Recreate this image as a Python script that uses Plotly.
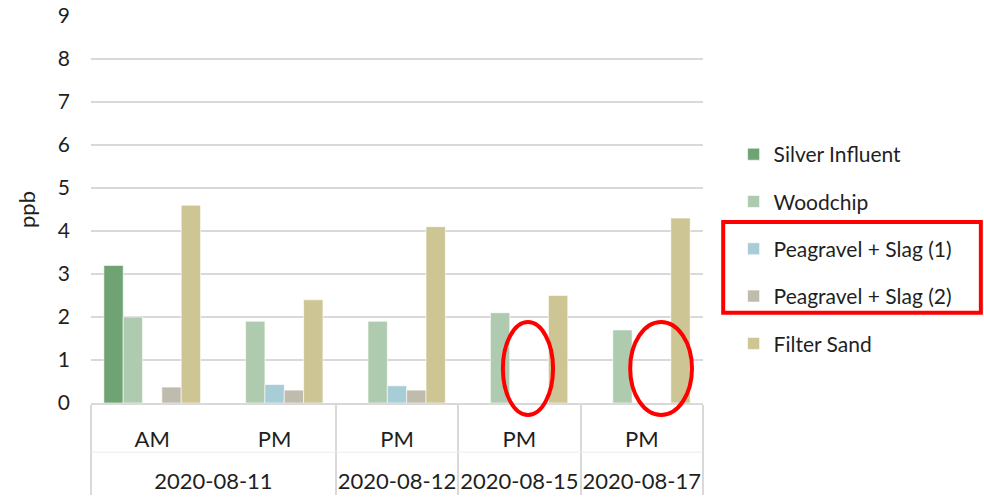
import plotly.graph_objects as go

dates = ["2020-08-11", "2020-08-11", "2020-08-12", "2020-08-15", "2020-08-17"]
times = ["AM", "PM", "PM", "PM", "PM"]

series_names = ["Silver Influent", "Woodchip", "Peagravel + Slag (1)", "Peagravel + Slag (2)", "Filter Sand"]
silver_influent = [3.2, None, None, None, None]
woodchip = [2.0, 1.9, 1.9, 2.1, 1.7]
peagravel_slag_1 = [None, 0.43, 0.4, None, None]
peagravel_slag_2 = [0.37, 0.3, 0.3, None, None]
filter_sand = [4.6, 2.4, 4.1, 2.5, 4.3]
colors = ["#6FA374", "#AFCBAF", "#A7CDD6", "#BFBCAE", "#CDC594"]

series_values = [silver_influent, woodchip, peagravel_slag_1, peagravel_slag_2, filter_sand]

FONT = "Lato"
TXT = "#1f1f1f"

# inner labels get a blank second line so the outer (date) row sits lower, as in the reference
inner = [t + "<br> " for t in times]

fig = go.Figure()
for i, (name, vals, col) in enumerate(zip(series_names, series_values, colors)):
    fig.add_trace(go.Bar(
        x=[dates, inner], y=vals, name=name, legendgroup=f"g{i}",
        marker=dict(color=col, line=dict(color="rgba(255,255,255,0.6)", width=1)),
    ))

red = dict(color="#FF0000", width=4)
shapes = [
    dict(type="circle", xref="paper", yref="paper", x0=0.673, x1=0.755, y0=-0.031, y1=0.209, line=red),
    dict(type="circle", xref="paper", yref="paper", x0=0.881, x1=0.982, y0=-0.031, y1=0.209, line=red),
    dict(type="rect", xref="paper", yref="paper", x0=1.033, x1=1.454, y0=0.233, y1=0.468, line=red),
    dict(type="line", xref="paper", yref="paper", x0=0, x1=1, y0=-0.127, y1=-0.127,
         line=dict(color="#EBEBEB", width=1)),
]

fig.update_layout(
    width=984, height=502,
    margin=dict(l=91, r=281, t=16, b=99, autoexpand=False),
    paper_bgcolor="white", plot_bgcolor="white",
    font=dict(family=FONT, size=21, color=TXT),
    barmode="group", bargap=0.21, bargroupgap=0,
    showlegend=True,
    legend=dict(x=1.05, y=0.695, xanchor="left", yanchor="top",
                font=dict(family=FONT, size=21, color=TXT),
                tracegroupgap=17, traceorder="grouped", bgcolor="rgba(0,0,0,0)"),
    shapes=shapes,
)
fig.update_yaxes(range=[0, 9], dtick=1, showgrid=True, gridcolor="#D9D9D9", gridwidth=1.5,
                 zeroline=False, showline=False, ticks="", ticklabelstandoff=20, automargin=False,
                 tickfont=dict(family=FONT, size=21, color=TXT),
                 title=dict(text="ppb", font=dict(family=FONT, size=22, color=TXT), standoff=16))
fig.update_xaxes(type="multicategory", showline=True, linecolor="#D9D9D9", linewidth=1.5,
                 showdividers=True, dividercolor="#D9D9D9", dividerwidth=1.5, automargin=False,
                 ticks="", ticklabelstandoff=16, tickfont=dict(family=FONT, size=22, color=TXT))

fig.write_html("out.html", config={"displayModeBar": False},
               post_script="document.body.style.margin='0';")
